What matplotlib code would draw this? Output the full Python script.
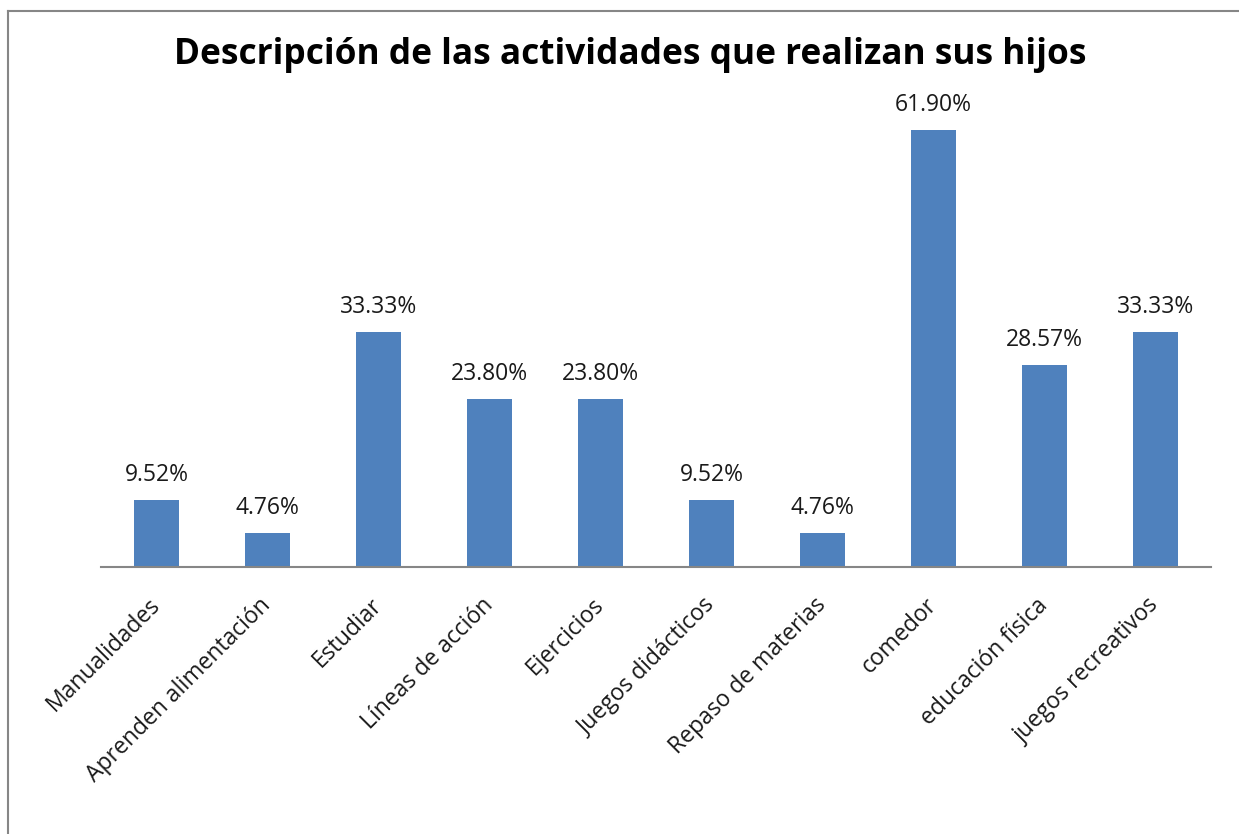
import matplotlib
matplotlib.use("Agg")
import matplotlib.pyplot as plt
from matplotlib.lines import Line2D

categories = ["Manualidades", "Aprenden alimentación", "Estudiar", "Líneas de acción",
              "Ejercicios", "Juegos didácticos", "Repaso de materias", "comedor",
              "educación física", "juegos recreativos"]
values = [9.52, 4.76, 33.33, 23.80, 23.80, 9.52, 4.76, 61.90, 28.57, 33.33]
value_labels = ["9.52%", "4.76%", "33.33%", "23.80%", "23.80%", "9.52%", "4.76%",
                "61.90%", "28.57%", "33.33%"]
title = "Descripción de las actividades que realizan sus hijos"

W, H = 1239, 834
fig = plt.figure(figsize=(W / 100, H / 100), dpi=100)
plt.rcParams['font.family'] = ['Open Sans', 'DejaVu Sans']

# axes: x from 101 to 1211 px, baseline at y=567 px, top at 73 px
ax = fig.add_axes([101 / W, 1 - 567 / H, (1211 - 101) / W, (567 - 73) / H])
x = list(range(len(categories)))
ax.bar(x, values, width=0.4, color="#4F81BD", zorder=2)
ax.set_xlim(-0.5, len(categories) - 0.5)
ax.set_ylim(0, 70)

for xi, v, lab in zip(x, values, value_labels):
    ax.annotate(lab, (xi, v), xytext=(0, 9.5), textcoords="offset points",
                ha="center", va="bottom", fontsize=16.5, color="#1a1a1a")

for s in ["top", "right", "left"]:
    ax.spines[s].set_visible(False)
ax.spines["bottom"].set_color("#868686")
ax.spines["bottom"].set_linewidth(1.5)
ax.set_yticks([])
ax.set_xticks(x)
ax.set_xticklabels(categories, rotation=45, ha="right", va="center",
                   rotation_mode="anchor", fontsize=16.5, color="#1a1a1a")
ax.tick_params(axis="x", length=0, pad=25)

fig.text(630 / W, 1 - 64 / H, title, ha="center", va="baseline",
         fontsize=25.4, fontweight="bold", color="black")

# chart frame (top and left only visible)
fig.add_artist(Line2D([8 / W, 8 / W], [1 - 11 / H, 0], transform=fig.transFigure,
                      color="#868686", linewidth=1.5))
fig.add_artist(Line2D([8 / W, 1], [1 - 11 / H, 1 - 11 / H], transform=fig.transFigure,
                      color="#868686", linewidth=1.5))

fig.savefig("out.png", dpi=100)
